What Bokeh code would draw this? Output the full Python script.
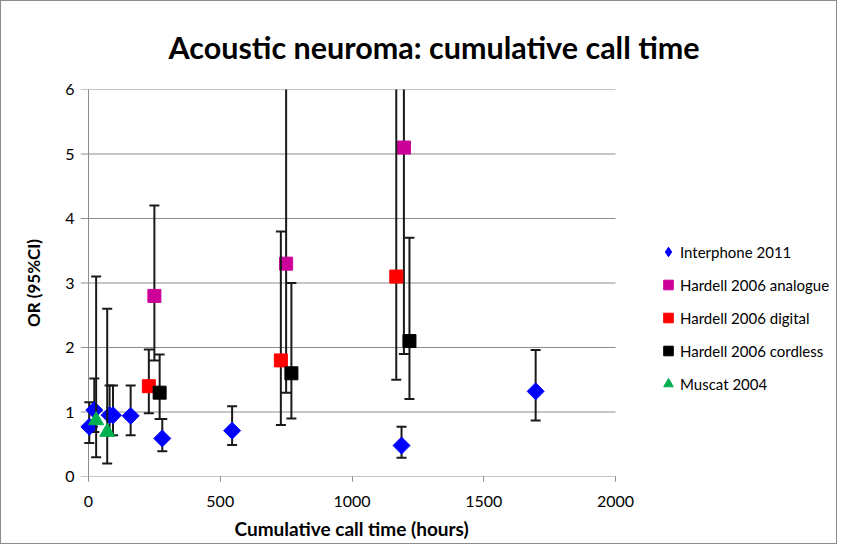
import math
from bokeh.plotting import figure
from bokeh.models import Legend, LegendItem, Range1d, FixedTicker, ColumnDataSource, Title
from bokeh.embed import file_html
from bokeh.resources import INLINE

# ---- data ----
inter_x = [3, 22, 80, 93, 160, 280, 545, 1188, 1697]
inter_or = [0.77, 1.03, 0.95, 0.95, 0.94, 0.59, 0.71, 0.48, 1.32]
inter_lo = [0.52, 0.69, 0.64, 0.64, 0.64, 0.39, 0.49, 0.29, 0.87]
inter_hi = [1.15, 1.52, 1.41, 1.41, 1.41, 0.89, 1.09, 0.77, 1.96]

ana_x = [250, 750, 1197]
ana_or = [2.8, 3.3, 5.1]
ana_lo = [1.8, 1.3, 1.9]
ana_hi = [4.2, 9.0, 13.0]

dig_x = [229, 730, 1168]
dig_or = [1.4, 1.8, 3.1]
dig_lo = [0.98, 0.8, 1.5]
dig_hi = [1.97, 3.8, 9.0]

cord_x = [270, 770, 1218]
cord_or = [1.3, 1.6, 2.1]
cord_lo = [0.89, 0.9, 1.2]
cord_hi = [1.89, 3.0, 3.7]

mus_x = [29, 71]
mus_or = [0.87, 0.69]
mus_lo = [0.3, 0.2]
mus_hi = [3.1, 2.6]

x_ticks = [0, 500, 1000, 1500, 2000]
y_ticks = [0, 1, 2, 3, 4, 5, 6]
X_MAX, Y_MAX = 2000, 6

FONT = "Lato"
GRID = "#8c8c8c"
BAR = "#1a1a1a"

# layout: the data area is 527 px wide; the frame starts 8 px left of x=0 (tick marks)
# and continues to the right to hold the legend
W, H = 837, 544
LEFT, RIGHT, TOP, BOTTOM = 79, 5, 88, 67
DATA_W = 527
TICK_PX = 8
frame_w = W - LEFT - RIGHT
px_per_unit = DATA_W / X_MAX
x_start = -TICK_PX / px_per_unit
x_end = x_start + frame_w / px_per_unit

p = figure(width=W, height=H, output_backend="svg", toolbar_location=None,
           x_range=Range1d(x_start, x_end), y_range=Range1d(0, Y_MAX),
           min_border_left=LEFT, min_border_right=RIGHT, min_border_top=TOP, min_border_bottom=BOTTOM)
p.styles = {"border": "1px solid #8c8c8c"}
p.outline_line_color = None
p.background_fill_color = "white"

p.title.text = "Acoustic neuroma: cumulative call time"
p.title.text_font = FONT
p.title.text_font_size = "30.5px"
p.title.text_font_style = "bold"
p.title.text_color = "black"
p.title.align = "left"
p.title.offset = 88
p.title.standoff = 49

p.grid.grid_line_color = None

for ax in (p.xaxis[0], p.yaxis[0]):
    ax.axis_line_color = None
    ax.major_tick_line_color = GRID
    ax.major_tick_in = 0
    ax.major_tick_out = 5
    ax.minor_tick_line_color = None
    ax.major_label_text_font = FONT
    ax.major_label_text_font_size = "16px"
    ax.major_label_text_color = "black"
    ax.axis_label_text_font = FONT
    ax.axis_label_text_font_size = "17px"
    ax.axis_label_text_font_style = "bold"
    ax.axis_label_text_color = "black"

p.yaxis.major_tick_line_color = None
p.yaxis.major_tick_out = 0
p.xaxis.ticker = FixedTicker(ticks=x_ticks)
p.yaxis.ticker = FixedTicker(ticks=y_ticks)
p.yaxis.axis_label = "OR (95%CI)"
p.xaxis.major_label_standoff = 14
p.yaxis.major_label_standoff = 6
p.yaxis.axis_label_standoff = 18

xlab = Title(text="Cumulative call time (hours)", align="left", offset=154, standoff=11,
             text_font=FONT, text_font_size="19px", text_font_style="bold", text_color="black")
p.add_layout(xlab, "below")

# horizontal gridlines (incl. the x axis line and the outside tick marks), then the y axis line
n = len(y_ticks)
grid_src = ColumnDataSource(dict(x0=[x_start] * n, x1=[X_MAX] * n, y=y_ticks))
p.segment(x0="x0", y0="y", x1="x1", y1="y", source=grid_src, line_color=GRID, line_width=1)
p.segment(x0=[0], y0=[0], x1=[0], y1=[Y_MAX], line_color=GRID, line_width=1)

series = [
    ("Interphone 2011", inter_x, inter_or, inter_lo, inter_hi, "square", "#0000ff", 12, math.pi / 4, "diamond"),
    ("Hardell 2006 analogue", ana_x, ana_or, ana_lo, ana_hi, "square", "#cc0099", 13, 0, "square"),
    ("Hardell 2006 digital", dig_x, dig_or, dig_lo, dig_hi, "square", "#ff0000", 13, 0, "square"),
    ("Hardell 2006 cordless", cord_x, cord_or, cord_lo, cord_hi, "square", "#000000", 13, 0, "square"),
    ("Muscat 2004", mus_x, mus_or, mus_lo, mus_hi, "triangle", "#00b050", 15, 0, "triangle"),
]

items = []
for name, xs, ors, lo, hi, marker, color, size, ang, lmarker in series:
    src = ColumnDataSource(dict(x=xs, y=ors, lo=lo, hi=hi))
    p.segment(x0="x", y0="lo", x1="x", y1="hi", source=src, line_color=BAR, line_width=2)
    p.scatter(x="x", y="lo", source=src, marker="dash", size=10, line_color=BAR, line_width=2)
    p.scatter(x="x", y="hi", source=src, marker="dash", size=10, line_color=BAR, line_width=2)
    p.scatter(x="x", y="y", source=src, marker=marker, size=size, angle=ang,
              fill_color=color, line_color=color, line_width=1)
    # hidden twin renderer used only for the legend swatch
    lr = p.scatter(x="x", y="y", source=src, marker=lmarker, size=size,
                   fill_color=color, line_color=color, visible=False)
    items.append(LegendItem(label=name, renderers=[lr]))

legend = Legend(items=items, location=(576, 76))
legend.border_line_color = None
legend.background_fill_alpha = 0
legend.inactive_fill_alpha = 0
legend.label_text_font = FONT
legend.label_text_font_size = "15px"
legend.label_text_color = "black"
legend.glyph_width = 24
legend.glyph_height = 33
legend.label_height = 33
legend.label_standoff = 0
legend.spacing = 0
legend.padding = 0
legend.margin = 0
p.add_layout(legend, "center")

open("out.html", "w").write(file_html(p, INLINE))
